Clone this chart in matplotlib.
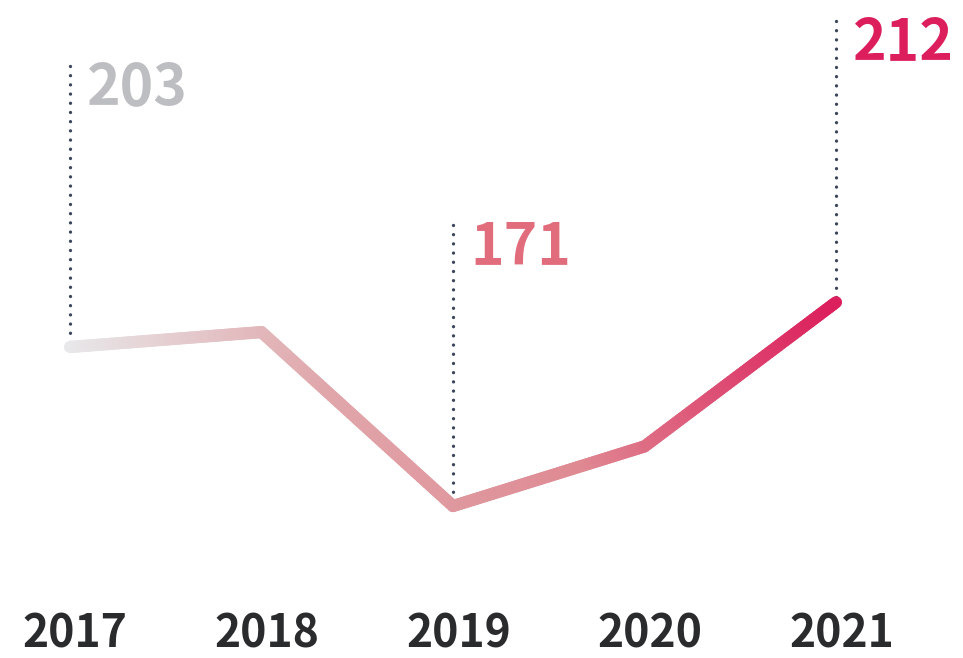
import numpy as np
import matplotlib.pyplot as plt
from matplotlib.collections import LineCollection
from matplotlib.colors import LinearSegmentedColormap

# Data
years = [2017, 2018, 2019, 2020, 2021]
values = [203, 206, 171, 183, 212]
labeled_years = [2017, 2019, 2021]
labeled_values = [203, 171, 212]
label_colors = ['#bdbec2', '#e06c7c', '#dc1e5c']

plt.rcParams['font.family'] = ['Noto Sans CJK SC', 'DejaVu Sans']

fig = plt.figure(figsize=(9.63, 6.58), dpi=100)
ax = fig.add_axes([0, 0, 1, 1])
ax.set_xlim(2017 - 70 / 191.5, 2017 + (963 - 70) / 191.5)
ax.set_ylim(203 - (658 - 347) / 4.97, 203 + 347 / 4.97)
ax.axis('off')

# gradient line (grey -> crimson), split the polyline into many short pieces
cmap = LinearSegmentedColormap.from_list('g', ['#e8e8ea', '#e0a7ab', '#df8a93', '#dc1e5c'])
xs, ys = [], []
for i in range(len(years) - 1):
    t = np.linspace(0, 1, 60, endpoint=False)
    xs.extend(years[i] + (years[i + 1] - years[i]) * t)
    ys.extend(values[i] + (values[i + 1] - values[i]) * t)
xs.append(years[-1]); ys.append(values[-1])
pts = np.array([xs, ys]).T.reshape(-1, 1, 2)
segs = np.concatenate([pts[:-1], pts[1:]], axis=1)
frac = (np.array(xs[:-1]) - years[0]) / (years[-1] - years[0])
lc = LineCollection(segs, colors=cmap(frac), linewidths=8.8, capstyle='round',
                    joinstyle='round', zorder=3)
ax.add_collection(lc)

# dotted leaders and value labels
for yr, v, c in zip(labeled_years, labeled_values, label_colors):
    ax.plot([yr, yr], [v + 1, v + 57], color='#3c465a', lw=2.4,
            linestyle=(0, (0.01, 2.75)), dash_capstyle='round', zorder=2)
    ax.annotate(str(v), xy=(yr, v), xytext=(17, 242), textcoords='offset pixels',
                fontsize=41, fontweight='bold', color=c, ha='left', va='baseline')

# year labels
for yr in years:
    ax.text(yr + 0.028, 0.016, str(yr), transform=ax.get_xaxis_transform(),
            fontsize=32, fontweight='bold', color='#2a2b2d', ha='center', va='baseline')

fig.savefig('out.png', dpi=100)
